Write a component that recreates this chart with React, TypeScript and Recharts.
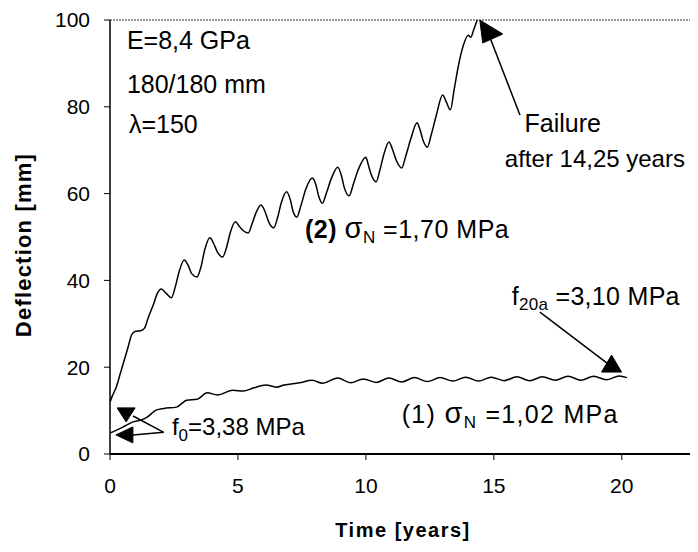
import React from 'react';
import { LineChart, Line, XAxis, YAxis, ReferenceLine, ReferenceDot, Label } from 'recharts';

const FONT = '"Liberation Sans", Arial, Helvetica, sans-serif';

// Curve (2): sigma_N = 1,70 MPa (failure after 14,25 years)
const curve2Time = [
  0, 0.1, 0.25, 0.4, 0.55, 0.7, 0.85, 1.0, 1.2, 1.35, 1.5, 1.7, 1.85, 2.0, 2.2, 2.4, 2.55, 2.7, 2.9,
  3.05, 3.2, 3.4, 3.55, 3.7, 3.9, 4.05, 4.2, 4.4, 4.55, 4.7, 4.9, 5.05, 5.2, 5.4, 5.55, 5.7, 5.9,
  6.05, 6.2, 6.4, 6.55, 6.7, 6.9, 7.05, 7.15, 7.3, 7.45, 7.65, 7.9, 8.05, 8.15, 8.3, 8.45, 8.65, 8.9,
  9.05, 9.15, 9.35, 9.5, 9.7, 10.0, 10.1, 10.2, 10.4, 10.55, 10.7, 10.9, 11.05, 11.2, 11.4, 11.55,
  11.75, 12.0, 12.1, 12.25, 12.4, 12.55, 12.75, 13.0, 13.15, 13.3, 13.45, 13.6, 13.8, 14.0, 14.1,
  14.2, 14.35,
];
const curve2Defl = [
  12, 13.5, 15.5, 18.5, 21.5, 24.5, 27.5, 28.3, 28.4, 29, 31.5, 34.5, 37, 38, 37, 36, 38.5, 42, 44.7,
  43.5, 41.5, 40.8, 43, 47, 49.8, 48.5, 46.5, 45.4, 47.5, 51, 53.5, 52.5, 51.5, 50.9, 53, 55.5, 57.4,
  56, 53.5, 52.1, 54.5, 58, 60.4, 58.5, 56, 54.6, 57, 61, 63.6, 62, 59.5, 57.8, 60, 63.5, 66.1,
  64, 61.5, 59.5, 62, 65.5, 68.4, 66.5, 64.5, 62.7, 65.5, 69, 71.9, 70, 67.5, 65.9, 68.5,
  72.5, 76.3, 75, 72, 70.7, 73.5, 78, 82.7, 81, 79.3, 84, 89, 94, 96.5, 96,
  97.5, 100,
];

// Curve (1): sigma_N = 1,02 MPa
const curve1Time = [
  0, 0.3, 0.6, 0.9, 1.2, 1.45, 1.8, 2.1, 2.6, 3.0, 3.4, 3.8, 4.2, 4.8, 5.2, 5.6, 6.1, 6.5, 6.8, 7.4,
  7.9, 8.3, 8.9, 9.4, 9.9, 10.4, 10.9, 11.4, 11.9, 12.4, 12.9, 13.4, 13.9, 14.4, 14.9, 15.4, 15.9,
  16.4, 16.9, 17.4, 17.9, 18.4, 18.9, 19.4, 19.9, 20.2,
];
const curve1Defl = [
  4.8, 5.6, 6.5, 7.4, 7.8, 8.5, 10.1, 10.5, 10.8, 12.4, 12.6, 14.1, 13.6, 14.7, 14.5, 15.2, 15.9, 15.4, 15.9, 16.4,
  17, 16.3, 17.5, 16.4, 17.3, 16.5, 17.5, 16.6, 17.6, 16.7, 17.6, 16.8, 17.7, 16.8, 17.7, 16.9, 17.8,
  16.9, 17.8, 17.0, 17.9, 17.0, 17.9, 17.1, 18.0, 17.6,
];

const xTicks = [0, 5, 10, 15, 20];
const yTicks = [0, 20, 40, 60, 80, 100];

const curve2 = curve2Time.map((t, i) => ({ t, d: curve2Defl[i] }));
const curve1 = curve1Time.map((t, i) => ({ t, d: curve1Defl[i] }));

const txt = (content: React.ReactNode, size = 25, spacing = 0) => (p: any) => (
  <text x={p.cx} y={p.cy} fontFamily={FONT} fontSize={size} letterSpacing={spacing} fill="#000">
    {content}
  </text>
);

const sigma = (rest: string) => (
  <>
    <tspan fontSize={29}>σ</tspan>
    <tspan fontSize={17} dy={5}>N</tspan>
    <tspan dy={-5}>{rest}</tspan>
  </>
);

const tri = (pts: number[][]) => (p: any) => (
  <polygon
    points={pts.map(([dx, dy]) => `${p.cx + dx},${p.cy + dy}`).join(' ')}
    fill="#000"
    stroke="#000"
  />
);

export default function App() {
  return (
    <LineChart width={688} height={536} margin={{ top: 12, right: 0, bottom: 0, left: 0 }} style={{ overflow: 'visible' }}>
      <XAxis
        type="number"
        dataKey="t"
        domain={[0, 22.9]}
        ticks={xTicks}
        interval={0}
        allowDataOverflow
        height={90}
        tickSize={6}
        tickMargin={18}
        axisLine={{ stroke: '#000', strokeWidth: 2 }}
        tickLine={{ stroke: '#000' }}
        tick={{ fill: '#000', fontSize: 21, fontFamily: FONT }}
      >
        <Label
          content={(props: any) => {
            const vb = props.viewBox;
            return (
              <text
                x={vb.x + vb.width / 2}
                y={vb.y + 83}
                textAnchor="middle"
                fontFamily={FONT}
                fontSize={20}
                fontWeight="bold"
                letterSpacing={1.5}
                fill="#000"
              >
                Time [years]
              </text>
            );
          }}
        />
      </XAxis>
      <YAxis
        type="number"
        domain={[0, 100]}
        ticks={yTicks}
        interval={0}
        width={102}
        tickSize={6}
        tickMargin={14}
        axisLine={{ stroke: '#000', strokeWidth: 1.5 }}
        tickLine={{ stroke: '#000' }}
        tick={{ fill: '#000', fontSize: 21, fontFamily: FONT }}
      >
        <Label
          content={(props: any) => {
            const vb = props.viewBox;
            const cx = vb.x + 15;
            const cy = vb.y + vb.height / 2 + 8;
            return (
              <text
                x={cx}
                y={cy}
                transform={`rotate(-90 ${cx} ${cy})`}
                textAnchor="middle"
                dominantBaseline="central"
                fontFamily={FONT}
                fontSize={22}
                fontWeight="bold"
                letterSpacing={1.2}
                fill="#000"
              >
                Deflection [mm]
              </text>
            );
          }}
        />
      </YAxis>
      <ReferenceLine y={100} stroke="#333" strokeDasharray="2 1" strokeWidth={1} />

      <Line data={curve2} dataKey="d" type="monotone" stroke="#000" strokeWidth={1.5} dot={false} isAnimationActive={false} />
      <Line data={curve1} dataKey="d" type="monotone" stroke="#000" strokeWidth={1.5} dot={false} isAnimationActive={false} />

      {/* arrows */}
      <ReferenceLine segment={[{ x: 16.02, y: 78.1 }, { x: 14.84, y: 96.1 }]} stroke="#000" strokeWidth={1.5} />
      <ReferenceLine segment={[{ x: 16.8, y: 32.7 }, { x: 19.41, y: 21.0 }]} stroke="#000" strokeWidth={1.5} />
      <ReferenceLine segment={[{ x: 2.1, y: 5.0 }, { x: 0.9, y: 8.76 }]} stroke="#000" strokeWidth={1.5} />
      <ReferenceLine segment={[{ x: 2.1, y: 5.0 }, { x: 0.9, y: 4.4 }]} stroke="#000" strokeWidth={1.5} />

      <ReferenceDot x={14.45} y={100} r={0} shape={tri([[0, 0], [23, 14], [3, 23]])} />
      <ReferenceDot x={19.6} y={22.8} r={0} shape={tri([[0, 0], [-10, 17], [10, 17]])} />
      <ReferenceDot x={0.63} y={7.4} r={0} shape={tri([[-9, -14], [9, -14], [0, 0]])} />
      <ReferenceDot x={0.23} y={4.4} r={0} shape={tri([[0, 0], [17, -8], [17, 8]])} />

      {/* texts */}
      <ReferenceDot x={0.66} y={93.3} r={0} shape={txt('E=8,4 GPa')} />
      <ReferenceDot x={0.66} y={83.2} r={0} shape={txt('180/180 mm')} />
      <ReferenceDot x={0.74} y={74.0} r={0} shape={txt('λ=150')} />
      <ReferenceDot
        x={7.62}
        y={49.8}
        r={0}
        shape={txt(
          <>
            <tspan fontWeight="bold">(2) </tspan>
            {sigma(' =1,70 MPa')}
          </>,
          25,
          0.5
        )}
      />
      <ReferenceDot x={16.2} y={74.2} r={0} shape={txt('Failure')} />
      <ReferenceDot x={15.43} y={66.1} r={0} shape={txt('after 14,25 years', 24)} />
      <ReferenceDot
        x={15.7}
        y={34.3}
        r={0}
        shape={txt(
          <>
            <tspan>f</tspan>
            <tspan fontSize={17} dy={5}>20a</tspan>
            <tspan dy={-5}> =3,10 MPa</tspan>
          </>,
          25,
          0.3
        )}
      />
      <ReferenceDot
        x={11.4}
        y={7.1}
        r={0}
        shape={txt(
          <>
            <tspan>(1)  </tspan>
            {sigma(' =1,02 MPa')}
          </>,
          25,
          1.3
        )}
      />
      <ReferenceDot
        x={2.42}
        y={4.4}
        r={0}
        shape={txt(
          <>
            <tspan>f</tspan>
            <tspan fontSize={17} dy={6}>0</tspan>
            <tspan dy={-6}>=3,38 MPa</tspan>
          </>,
          24
        )}
      />
    </LineChart>
  );
}
